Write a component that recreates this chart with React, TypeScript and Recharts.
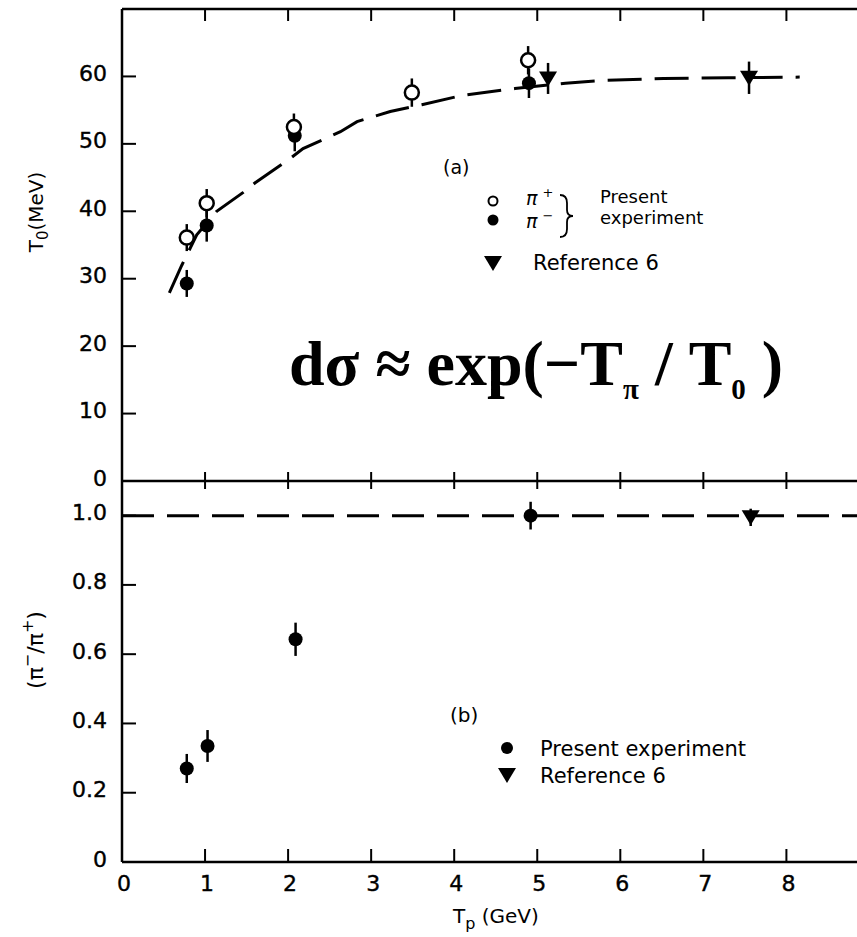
import React from 'react';
import { ScatterChart, Scatter, XAxis, YAxis, ErrorBar } from 'recharts';

// panel (a): T0 (MeV) vs Tp (GeV)
const tpPlus = [0.78, 1.02, 2.07, 3.49, 4.89];
const t0Plus = [36.1, 41.2, 52.5, 57.6, 62.4];
const t0PlusErr = [2.0, 2.1, 2.0, 2.1, 2.1];

const tpMinus = [0.78, 1.02, 2.08, 4.9];
const t0Minus = [29.3, 37.9, 51.2, 59.0];
const t0MinusErr = [2.0, 2.4, 2.3, 2.2];

const tpRef = [5.13, 7.55];
const t0Ref = [59.7, 59.8];
const t0RefErr = [2.3, 2.4];

const fitTp = [0.57, 0.72, 0.9, 1.14, 1.46, 1.6, 2.0, 2.18, 2.63, 2.83, 3.23, 3.61, 4.1, 4.73, 5.34, 5.8, 6.52, 7.3, 8.16];
const fitT0 = [27.9, 32, 36.5, 40, 42.8, 44.2, 47.6, 49.3, 51.8, 53.3, 54.8, 55.8, 57.2, 58.2, 59, 59.4, 59.7, 59.8, 59.9];

// panel (b): pi-/pi+ ratio
const ratioTp = [0.78, 1.03, 2.09, 4.92];
const ratio = [0.27, 0.335, 0.643, 1.0];
const ratioErr = [0.042, 0.046, 0.048, 0.04];

const ratioRefTp = [7.57];
const ratioRef = [0.995];
const ratioRefErr = [0.025];

const unityTp = [0, 8.85];
const unity = [1, 1];

const xTicks = [0, 1, 2, 3, 4, 5, 6, 7, 8];
const t0Ticks = [0, 10, 20, 30, 40, 50, 60];
const ratioTicks = [0, 0.2, 0.4, 0.6, 0.8, 1.0];
const ratioLabels = ['0', '0.2', '0.4', '0.6', '0.8', '1.0'];

const W = 857;
const X_DOMAIN: [number, number] = [0, 8.85];
const FONT = '"DejaVu Sans", sans-serif';
const INK = '#000';

const pts = (xs: number[], ys: number[], es?: number[]) =>
  xs.map((x, i) => ({ x, y: ys[i], err: es ? es[i] : 0 }));

const openCircle = (p: any) => <circle cx={p.cx} cy={p.cy} r={7} fill="#fff" stroke={INK} strokeWidth={2.5} />;
const dot = (p: any) => <circle cx={p.cx} cy={p.cy} r={7} fill={INK} />;
const tri = (p: any) => (
  <path d={`M${p.cx - 9},${p.cy - 7} L${p.cx + 9},${p.cy - 7} L${p.cx},${p.cy + 8} Z`} fill={INK} />
);
const none = () => <g />;

const labelStyle = { fontFamily: FONT, fill: INK, stroke: INK, strokeWidth: 0.4 };

const leftTick = (labels?: string[], values?: number[]) => (p: any) => {
  const v = p.payload.value;
  const label = labels && values ? labels[values.indexOf(v)] : String(v);
  return (
    <g>
      <line x1={p.x} y1={p.y} x2={p.x + 14} y2={p.y} stroke={INK} strokeWidth={2} />
      <text {...labelStyle} x={p.x - 15} y={p.y - 3} textAnchor="end" dominantBaseline="central" fontSize={22}>
        {label}
      </text>
    </g>
  );
};

const rightTick = (p: any) => (
  <line x1={p.x - 6} y1={p.y} x2={p.x} y2={p.y} stroke={INK} strokeWidth={2} />
);

const topTick = (p: any) =>
  p.payload.value === 0 ? <g /> : <line x1={p.x} y1={p.y} x2={p.x} y2={p.y + 12} stroke={INK} strokeWidth={2} />;

const midTick = (p: any) =>
  p.payload.value === 0 ? <g /> : <line x1={p.x} y1={p.y - 9} x2={p.x} y2={p.y + 8} stroke={INK} strokeWidth={2} />;

const bottomTick = (p: any) => (
  <g>
    {p.payload.value !== 0 && <line x1={p.x} y1={p.y} x2={p.x} y2={p.y - 13} stroke={INK} strokeWidth={2} />}
    <text {...labelStyle} x={p.x + 2} y={p.y + 21} textAnchor="middle" dominantBaseline="central" fontSize={22}>
      {p.payload.value}
    </text>
  </g>
);

const axisLine = { stroke: INK, strokeWidth: 2.5 };
const errProps = { dataKey: 'err', direction: 'y' as const, width: 0, stroke: INK, strokeWidth: 2.5 };

function TopPanel() {
  return (
    <ScatterChart width={W} height={500} margin={{ top: 8, right: 0, bottom: 18, left: 0 }}>
      <XAxis xAxisId="b" dataKey="x" type="number" domain={X_DOMAIN} ticks={xTicks} interval={0} height={1}
        tickSize={0} tickMargin={0} axisLine={axisLine} tick={midTick} allowDataOverflow />
      <XAxis xAxisId="t" orientation="top" dataKey="x" type="number" domain={X_DOMAIN} ticks={xTicks} interval={0}
        height={1} tickSize={0} tickMargin={0} axisLine={axisLine} tick={topTick} allowDataOverflow />
      <YAxis yAxisId="l" dataKey="y" type="number" domain={[0, 70]} ticks={t0Ticks} interval={0} width={122}
        tickSize={0} tickMargin={0} axisLine={axisLine} tick={leftTick()} />
      <YAxis yAxisId="r" orientation="right" dataKey="y" type="number" domain={[0, 70]} ticks={t0Ticks.slice(1)}
        interval={0} width={0} tickSize={0} tickMargin={0} axisLine={false} tick={rightTick} />

      <Scatter name="fit" xAxisId="b" yAxisId="l" data={pts(fitTp, fitT0)} shape={none} isAnimationActive={false}
        line={{ stroke: INK, strokeWidth: 3, strokeDasharray: '34 13' }} />
      <Scatter name="pi+ err" xAxisId="b" yAxisId="l" data={pts(tpPlus, t0Plus, t0PlusErr)} shape={none} isAnimationActive={false}>
        <ErrorBar {...errProps} />
      </Scatter>
      <Scatter name="pi- err" xAxisId="b" yAxisId="l" data={pts(tpMinus, t0Minus, t0MinusErr)} shape={none} isAnimationActive={false}>
        <ErrorBar {...errProps} />
      </Scatter>
      <Scatter name="ref err" xAxisId="b" yAxisId="l" data={pts(tpRef, t0Ref, t0RefErr)} shape={none} isAnimationActive={false}>
        <ErrorBar {...errProps} />
      </Scatter>
      <Scatter name="pi-" xAxisId="b" yAxisId="l" data={pts(tpMinus, t0Minus)} shape={dot} isAnimationActive={false} />
      <Scatter name="pi+" xAxisId="b" yAxisId="l" data={pts(tpPlus, t0Plus)} shape={openCircle} isAnimationActive={false} />
      <Scatter name="Reference 6" xAxisId="b" yAxisId="l" data={pts(tpRef, t0Ref)} shape={tri} isAnimationActive={false} />
    </ScatterChart>
  );
}

function BottomPanel() {
  return (
    <ScatterChart width={W} height={466} margin={{ top: 10, right: 0, bottom: 74, left: 0 }}>
      <XAxis xAxisId="b" dataKey="x" type="number" domain={X_DOMAIN} ticks={xTicks} interval={0} height={1}
        tickSize={0} tickMargin={0} axisLine={axisLine} tick={bottomTick} allowDataOverflow />
      <YAxis yAxisId="l" dataKey="y" type="number" domain={[0, 1.1]} ticks={ratioTicks} interval={0} width={122}
        tickSize={0} tickMargin={0} axisLine={axisLine} tick={leftTick(ratioLabels, ratioTicks)} />
      <YAxis yAxisId="r" orientation="right" dataKey="y" type="number" domain={[0, 1.1]} ticks={ratioTicks.slice(1)}
        interval={0} width={0} tickSize={0} tickMargin={0} axisLine={false} tick={rightTick} />

      <Scatter name="unity" xAxisId="b" yAxisId="l" data={pts(unityTp, unity)} shape={none} isAnimationActive={false}
        line={{ stroke: INK, strokeWidth: 3, strokeDasharray: '32 13' }} />
      <Scatter name="ratio err" xAxisId="b" yAxisId="l" data={pts(ratioTp, ratio, ratioErr)} shape={none} isAnimationActive={false}>
        <ErrorBar {...errProps} />
      </Scatter>
      <Scatter name="ref err" xAxisId="b" yAxisId="l" data={pts(ratioRefTp, ratioRef, ratioRefErr)} shape={none} isAnimationActive={false}>
        <ErrorBar {...errProps} />
      </Scatter>
      <Scatter name="Present experiment" xAxisId="b" yAxisId="l" data={pts(ratioTp, ratio)} shape={dot} isAnimationActive={false} />
      <Scatter name="Reference 6" xAxisId="b" yAxisId="l" data={pts(ratioRefTp, ratioRef)} shape={tri} isAnimationActive={false} />
    </ScatterChart>
  );
}

function Annotations() {
  const t = { fontFamily: FONT, fill: INK };
  return (
    <svg width={W} height={937} style={{ position: 'absolute', left: 0, top: 0, pointerEvents: 'none' }}>
      {/* axis titles */}
      <text {...t} fontSize={20} textAnchor="middle" transform="translate(43,212) rotate(-90)">
        T<tspan fontSize={15} dy={5}>0</tspan><tspan dy={-5}>(MeV)</tspan>
      </text>
      <text {...t} fontSize={22} textAnchor="middle" transform="translate(43,650) rotate(-90)">
        (π<tspan fontSize={16} dy={-10}>−</tspan><tspan dy={10}>/π</tspan><tspan fontSize={16} dy={-10}>+</tspan><tspan dy={10}>)</tspan>
      </text>
      <text {...t} fontSize={20} x={453} y={923}>
        T<tspan fontSize={16} dy={6}>p</tspan><tspan dy={-6}> (GeV)</tspan>
      </text>

      {/* panel (a) legend */}
      <text {...t} fontSize={19} x={443} y={174}>(a)</text>
      <circle cx={493} cy={201} r={4.5} fill="#fff" stroke={INK} strokeWidth={2} />
      <text {...t} fontSize={19} fontStyle="italic" x={526} y={205}>
        π<tspan fontSize={13} dx={5} dy={-8} fontStyle="normal">+</tspan>
      </text>
      <circle cx={493} cy={220} r={5.5} fill={INK} />
      <text {...t} fontSize={19} fontStyle="italic" x={526} y={228}>
        π<tspan fontSize={13} dx={5} dy={-8} fontStyle="normal">−</tspan>
      </text>
      <path d="M560,195 Q567,195 567,203 L567,210 Q567,216 573,216 Q567,216 567,222 L567,229 Q567,237 560,237"
        fill="none" stroke={INK} strokeWidth={1.8} />
      <text {...t} fontSize={18} x={600} y={203}>Present</text>
      <text {...t} fontSize={18} x={600} y={224}>experiment</text>
      <path d="M484,256 L502,256 L493,271 Z" fill={INK} />
      <text {...t} fontSize={21} x={533} y={270}>Reference 6</text>

      {/* formula */}
      <text fontFamily='"Liberation Serif", serif' fontWeight="bold" fontSize={64} fill={INK} x={289} y={385}>
        dσ ≈ exp(−T<tspan fontSize={29} dy={14}>π</tspan><tspan dy={-14}> / T</tspan><tspan fontSize={29} dy={14}>0</tspan><tspan dy={-14}> )</tspan>
      </text>

      {/* panel (b) legend */}
      <text {...t} fontSize={20} x={450} y={722}>(b)</text>
      <circle cx={507} cy={748} r={6} fill={INK} />
      <text {...t} fontSize={21} x={540} y={756}>Present experiment</text>
      <path d="M498,768 L516,768 L507,783 Z" fill={INK} />
      <text {...t} fontSize={21} x={540} y={783}>Reference 6</text>
    </svg>
  );
}

export default function App() {
  return (
    <div style={{ position: 'absolute', left: 0, top: 0, width: W, height: 937, background: '#fff', overflow: 'hidden' }}>
      <div style={{ position: 'absolute', left: 0, top: 0 }}>
        <TopPanel />
      </div>
      <div style={{ position: 'absolute', left: 0, top: 471 }}>
        <BottomPanel />
      </div>
      <Annotations />
    </div>
  );
}
